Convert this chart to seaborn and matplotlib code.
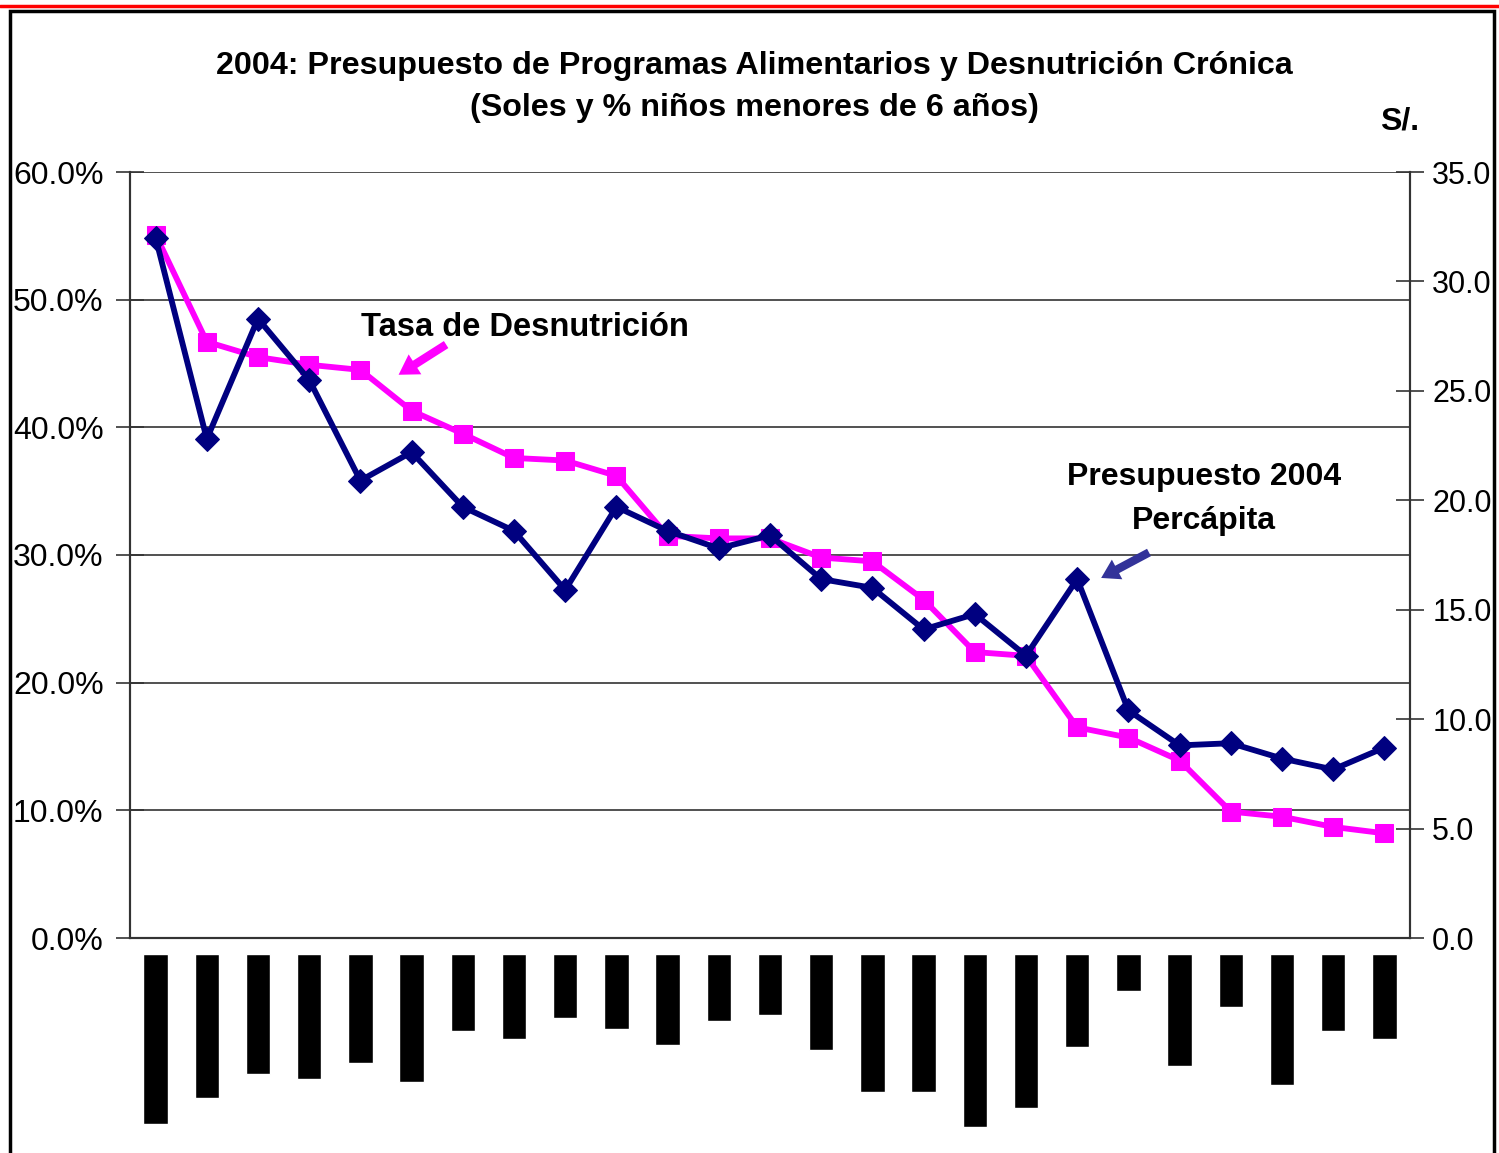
import numpy as np
import pandas as pd
import matplotlib
matplotlib.use("Agg")
import matplotlib.pyplot as plt
from matplotlib.lines import Line2D
from matplotlib.patches import Rectangle
import seaborn as sns

# 25 departamentos (nombres ocultos en el original, se ven como barras negras)
dept = np.arange(25)
desnutricion = [55.1, 46.7, 45.5, 44.9, 44.5, 41.3, 39.5, 37.6, 37.4, 36.2,
                31.5, 31.3, 31.3, 29.8, 29.5, 26.5, 22.4, 22.1, 16.5, 15.7,
                13.9, 9.9, 9.5, 8.7, 8.2]
presupuesto = [32.0, 22.8, 28.3, 25.5, 20.9, 22.2, 19.7, 18.6, 15.9, 19.7,
               18.6, 17.8, 18.4, 16.4, 16.0, 14.1, 14.8, 12.9, 16.4, 10.4,
               8.8, 8.9, 8.2, 7.7, 8.7]
etiqueta_largo = [170, 144, 120, 125, 109, 128, 77, 85, 64, 75, 91, 67, 61,
                  96, 138, 138, 173, 154, 93, 37, 112, 53, 131, 77, 85]

df = pd.DataFrame({"dept": dept, "tasa": desnutricion,
                   "soles": presupuesto, "largo": etiqueta_largo})

sns.set_style("white")
plt.rcParams["font.family"] = ["Liberation Sans", "DejaVu Sans"]
plt.rcParams["text.color"] = "black"
plt.rcParams["axes.labelcolor"] = "black"

W, H = 1499, 1153
fig = plt.figure(figsize=(W / 100, H / 100), dpi=100)

ax = fig.add_axes([130 / W, 1 - 938 / H, 1280 / W, 766 / H])
ax2 = ax.twinx()

pink = "#FF00FF"
navy = "#000080"

sns.lineplot(data=df, x="dept", y="tasa", ax=ax, color=pink, lw=4.2,
             marker="s", markersize=13, markeredgecolor=pink, zorder=3)
sns.lineplot(data=df, x="dept", y="soles", ax=ax2, color=navy, lw=4.2,
             marker="D", markersize=12, markeredgecolor=navy, zorder=4)

ax.set_xlim(-0.5, 24.5)
ax.set_ylim(0, 60)
ax2.set_ylim(0, 35)
ax.set_yticks(np.arange(0, 61, 10))
ax.set_yticklabels([f"{v:.1f}%" for v in np.arange(0, 61, 10)])
ax2.set_yticks(np.arange(0, 36, 5))
ax2.set_yticklabels([f"{v:.1f}" for v in np.arange(0, 36, 5)])
ax.set_xticks(np.arange(-0.5, 25, 1))
ax.set_xticklabels([])
ax.set_xlabel("")
ax.set_ylabel("")
ax2.set_ylabel("")

ax.yaxis.grid(True, color="#333333", lw=1.2)
ax.set_axisbelow(True)
for a in (ax, ax2):
    for s in a.spines.values():
        s.set_color("#333333")
        s.set_linewidth(1.5)
    a.spines["top"].set_visible(False)
ax.tick_params(axis="y", direction="inout", length=20, width=1.2,
               labelsize=23, pad=9, colors="#333333", labelcolor="black")
ax2.tick_params(axis="y", direction="inout", length=20, width=1.2,
                labelsize=22, pad=6, colors="#333333", labelcolor="black")
ax.tick_params(axis="x", direction="inout", length=12, width=1.2, colors="#333333")
ax2.patch.set_visible(False)

# etiquetas de departamentos (barras negras)
axb = fig.add_axes([130 / W, 0, 1280 / W, (H - 954) / H])
sns.barplot(data=df, x="dept", y="largo", ax=axb, color="black",
            width=0.48, saturation=1)
axb.set_xlim(-0.5, 24.5)
axb.set_ylim(H - 954, 0)
axb.axis("off")

# anotaciones
ax.text(7.21, 47.8, "Tasa de Desnutrición", fontsize=23.5, fontweight="bold",
        ha="center", va="center")
ax.annotate("", xy=(4.7, 44.0), xytext=(5.72, 46.6),
            arrowprops=dict(arrowstyle="simple,head_width=1.7,head_length=1.4,tail_width=0.6",
                            color=pink, lw=0))
ax.text(20.48, 34.4, "Presupuesto 2004\nPercápita", fontsize=23,
        fontweight="bold", ha="center", va="center", linespacing=1.6)
ax.annotate("", xy=(18.42, 28.1), xytext=(19.45, 30.3),
            arrowprops=dict(arrowstyle="simple,head_width=1.6,head_length=1.3,tail_width=0.6",
                            color="#333399", lw=0))

fig.text(754 / W, 1 - 87 / H,
         "2004: Presupuesto de Programas Alimentarios y Desnutrición Crónica\n"
         "(Soles y % niños menores de 6 años)",
         ha="center", va="center", fontsize=23.2, fontweight="bold", linespacing=1.55)
fig.text(1400 / W, 1 - 122 / H, "S/.", ha="center", va="center",
         fontsize=23, fontweight="bold")

# marco y línea roja superior
fig.patches.append(Rectangle((10 / W, -0.05), 1484 / W, 1.05 - 11 / H,
                             transform=fig.transFigure, fill=False,
                             edgecolor="black", lw=2.5))
fig.lines.append(Line2D([0, 1], [1 - 6 / H, 1 - 6 / H], transform=fig.transFigure,
                        color="red", lw=2.5))

fig.savefig("out.png", dpi=100)
